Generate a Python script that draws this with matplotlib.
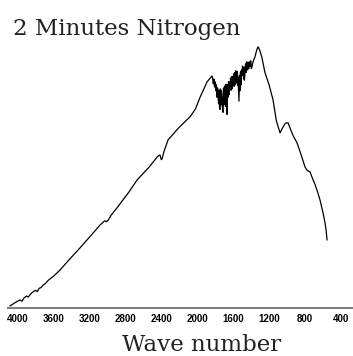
import matplotlib
matplotlib.use("Agg")
import matplotlib.pyplot as plt

# IR spectrum (wave number, relative transmittance)
wave = [4083, 4030, 3990, 3972, 3950, 3930, 3900, 3880, 3860, 3828, 3800, 3780,
        3760, 3740, 3716, 3690, 3660, 3630, 3600, 3527, 3420, 3305, 3190, 3082,
        3030, 3010, 2990, 2960, 2893, 2760, 2670, 2540, 2440, 2414, 2400, 2392,
        2370, 2325, 2200, 2080, 2020, 1969, 1891, 1836,
        1830, 1822, 1815, 1808, 1802, 1795, 1788, 1780, 1774, 1769, 1763, 1758,
        1752, 1747, 1742, 1737, 1731, 1725, 1719, 1713, 1708, 1702, 1697, 1691,
        1686, 1680, 1675, 1669, 1663, 1658, 1652, 1645, 1640, 1636, 1630, 1624,
        1618, 1612, 1607, 1602, 1596, 1590, 1584, 1578, 1573, 1569, 1563, 1558,
        1552, 1547, 1541, 1536, 1531, 1525, 1519, 1513, 1508, 1502, 1497, 1491,
        1485, 1480, 1475, 1469, 1463, 1458, 1452, 1446, 1440, 1434, 1428, 1420,
        1413, 1405, 1398, 1391, 1380, 1370, 1358, 1340, 1324, 1310, 1295, 1280,
        1246, 1201, 1157, 1120, 1079, 1050, 1020, 990, 960, 930, 890, 850, 801,
        775, 760, 745, 720, 690, 660, 634, 600, 578, 565, 556]
trans = [0.8, 2.0, 2.8, 3.1, 2.6, 3.8, 4.6, 4.2, 5.2, 6.2, 6.8, 6.3,
         7.6, 7.8, 8.8, 9.4, 10.6, 11.4, 12.2, 14.6, 18.8, 23.1, 27.6, 31.9,
         33.5, 33.2, 33.8, 35.6, 38.5, 44.6, 49.2, 54.0, 58.3, 58.8, 57.0, 57.3,
         60.2, 64.6, 69.5, 73.5, 76.5, 81.0, 86.9, 89.2,
         88.5, 86.2, 88.0, 85.0, 86.9, 83.5, 85.8, 81.0, 84.6, 82.1, 78.5, 83.8,
         77.0, 76.3, 84.2, 78.0, 83.5, 81.7, 76.0, 75.2, 84.5, 78.2, 85.3, 82.8,
         77.5, 86.0, 79.2, 74.4, 85.9, 81.0, 87.0, 82.0, 86.8, 84.0, 88.4, 83.7,
         89.0, 84.3, 88.9, 86.7, 90.0, 85.2, 90.5, 85.8, 91.2, 89.8, 86.5, 91.0,
         85.5, 88.8, 84.0, 79.5, 89.5, 83.5, 90.8, 85.8, 91.5, 89.4, 93.0, 92.5,
         88.0, 92.6, 87.5, 90.4, 93.8, 90.5, 94.6, 93.2, 91.5, 94.5, 92.0, 94.6,
         92.8, 95.0, 92.0, 92.7, 94.5, 95.5, 96.5, 99.0, 100.4, 99.5, 98.0, 96.2,
         90.4, 85.8, 80.0, 72.0, 67.3, 69.3, 71.0, 71.2, 68.5, 66.0, 63.5, 59.5, 54.2,
         52.8, 52.6, 52.3, 50.0, 47.5, 44.5, 41.5, 36.5, 32.7, 29.5, 26.2]
tick_vals = [4000, 3600, 3200, 2800, 2400, 2000, 1600, 1200, 800, 400]

fig = plt.figure(figsize=(3.53, 3.56), dpi=100)
ax = fig.add_axes([0.0227, 0.1348, 0.9745, 0.7528])

ax.plot(wave, trans, color='black', lw=0.9)

ax.set_xlim(4106, 278)
ax.set_ylim(0, 103)
ax.set_xticks(tick_vals)
ax.set_xticklabels([str(v) for v in tick_vals], fontfamily='Liberation Sans',
                   fontweight='bold', fontsize=7)
ax.set_yticks([])
ax.tick_params(axis='x', length=0, pad=4)
for s in ['top', 'left', 'right']:
    ax.spines[s].set_visible(False)
ax.spines['bottom'].set_color('#808080')
ax.spines['bottom'].set_linewidth(1.5)

fig.text(13 / 353, 0.9017, '2 Minutes Nitrogen', family='DejaVu Serif',
         fontsize=16.5, color='#222222', va='baseline', ha='left')
fig.text(0.572, 0.014, 'Wave number', family='DejaVu Serif',
         fontsize=16.5, color='#222222', va='baseline', ha='center')

fig.savefig('out.png', dpi=100)
